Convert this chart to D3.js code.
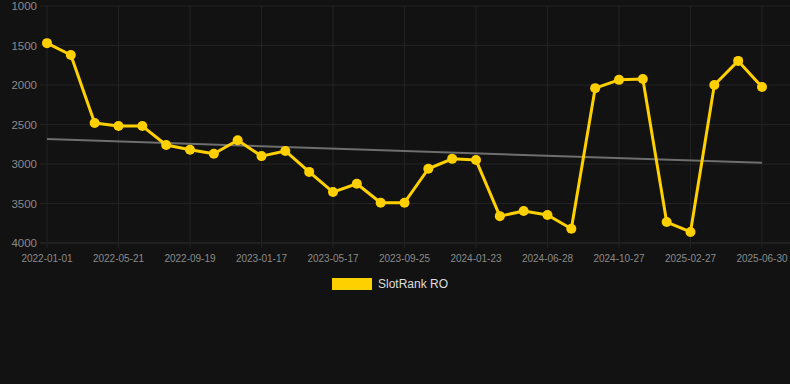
<!DOCTYPE html>
<html><head><meta charset="utf-8">
<script src="https://cdn.jsdelivr.net/npm/d3@7"></script>
<style>html,body{margin:0;padding:0;background:#121212;}svg{display:block;}</style>
</head><body>
<svg id="c" width="790" height="384"></svg>
<script>
const dates = ["2022-01-01","2022-02-16","2022-04-04","2022-05-21","2022-07-07","2022-08-13","2022-09-19","2022-10-29","2022-12-08","2023-01-17","2023-02-26","2023-04-07","2023-05-17","2023-06-26","2023-08-15","2023-09-25","2023-11-04","2023-12-14","2024-01-23","2024-03-10","2024-05-01","2024-06-28","2024-08-10","2024-09-18","2024-10-27","2024-12-08","2025-01-17","2025-02-27","2025-04-08","2025-05-19","2025-06-30"];
const ranks = [1470,1620,2480,2520,2520,2760,2820,2870,2700,2900,2835,3100,3355,3250,3490,3490,3060,2935,2950,3660,3595,3645,3820,2040,1935,1925,3735,3860,2000,1695,2025];
const trend = [2685,2985];
const yTicks = [1000,1500,2000,2500,3000,3500,4000];
const seriesName = "SlotRank RO";

const svg = d3.select("#c");
const W = 790, H = 384;
const gridLeft = 40, gridRight = 790;
const x = d3.scalePoint().domain(dates).range([47, 762]);
const y = d3.scaleLinear().domain([1000, 4000]).range([6, 243]);

// horizontal grid
svg.append("g").selectAll("line").data(yTicks).join("line")
  .attr("x1", gridLeft).attr("x2", gridRight)
  .attr("y1", d => y(d)).attr("y2", d => y(d))
  .attr("stroke", d => d === 4000 ? "#2e2e2e" : "#222").attr("stroke-width", 1);

// vertical grid at labelled ticks
const labelled = dates.filter((d, i) => i % 3 === 0);
svg.append("g").selectAll("line").data(labelled).join("line")
  .attr("x1", d => x(d)).attr("x2", d => x(d))
  .attr("y1", y(1000)).attr("y2", y(4000) + 5)
  .attr("stroke", "#222").attr("stroke-width", 1);

// y labels
svg.append("g").selectAll("text").data(yTicks).join("text")
  .attr("x", 37).attr("y", d => y(d)).attr("dy", "0.35em")
  .attr("text-anchor", "end").attr("fill", "#8a8a8a")
  .attr("font-family", "'Liberation Sans', Arial, sans-serif").attr("font-size", 11.5)
  .text(d => d);

// x labels
svg.append("g").selectAll("text").data(labelled).join("text")
  .attr("x", d => x(d)).attr("y", 262)
  .attr("text-anchor", "middle").attr("fill", "#8a8a8a")
  .attr("font-family", "'Liberation Sans', Arial, sans-serif").attr("font-size", 10)
  .text(d => d);

// trend line
svg.append("line")
  .attr("x1", x(dates[0])).attr("x2", x(dates[dates.length - 1]))
  .attr("y1", y(trend[0])).attr("y2", y(trend[1]))
  .attr("stroke", "#6e6e6e").attr("stroke-width", 2);

// main line
const line = d3.line().x((d, i) => x(dates[i])).y(d => y(d));
svg.append("path").datum(ranks)
  .attr("d", line).attr("fill", "none")
  .attr("stroke", "#FFD000").attr("stroke-width", 3).attr("stroke-linejoin", "round");

svg.append("g").selectAll("circle").data(ranks).join("circle")
  .attr("cx", (d, i) => x(dates[i])).attr("cy", d => y(d)).attr("r", 5)
  .attr("fill", "#FFD000");

// legend
svg.append("rect").attr("x", 332).attr("y", 278).attr("width", 40).attr("height", 12)
  .attr("fill", "#FFD000");
svg.append("text").attr("x", 378).attr("y", 284).attr("dy", "0.35em")
  .attr("fill", "#dddddd").attr("font-family", "'Liberation Sans', Arial, sans-serif")
  .attr("font-size", 12).text(seriesName);
</script>
</body></html>
